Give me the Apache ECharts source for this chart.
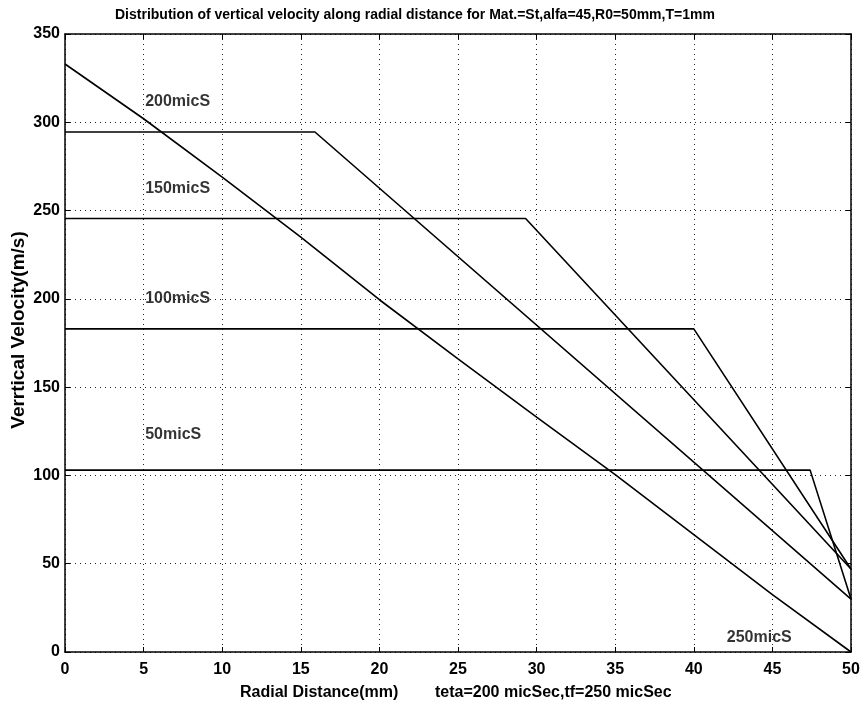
<!DOCTYPE html>
<html>
<head>
<meta charset="utf-8">
<script src="https://cdn.jsdelivr.net/npm/echarts@6/dist/echarts.min.js"></script>
<style>
  html, body { margin: 0; padding: 0; background: #fff; }
  #main { width: 865px; height: 706px; }
</style>
</head>
<body>
<div id="main"></div>
<script>
// 250 micS: continuous fall along the radius
const x250 = [0, 5, 10, 15, 20, 25, 30, 35, 40, 45, 50]
const v250 = [333, 302, 269, 235, 199.5, 166, 133, 100.5, 66.5, 32.5, 0]

// plateau curves: [start, corner, end]
const x200 = [0, 15.9, 50]
const v200 = [294.5, 294.5, 30]
const x150 = [0, 29.3, 50]
const v150 = [245.5, 245.5, 47]
const x100 = [0, 40, 50]
const v100 = [183, 183, 47]
const x50 = [0, 47.4, 50]
const v50 = [103, 103, 30]

// curve labels
const labelText = ['200micS', '150micS', '100micS', '50micS', '250micS']
const labelX = [5.1, 5.1, 5.1, 5.1, 42.1]
const labelY = [311.5, 262.5, 200, 123, 8]

const pairs = (xs, ys) => xs.map((x, i) => [x, ys[i]])

const lineSeries = (name, xs, ys, w) => ({
  name: name,
  type: 'line',
  data: pairs(xs, ys),
  showSymbol: false,
  silent: true,
  lineStyle: { color: '#000', width: w },
  animation: false
})

const FONT = 'Liberation Sans, Arial, sans-serif'
const tickFont = { color: '#000', fontFamily: FONT, fontWeight: 'bold', fontSize: 16 }
const dotted = { show: true, lineStyle: { color: '#222', type: [1, 4], width: 1 } }

let myChart = echarts.init(document.getElementById('main'))
myChart.setOption({
  animation: false,
  backgroundColor: '#fff',
  title: {
    text: 'Distribution of vertical velocity along radial distance for Mat.=St,alfa=45,R0=50mm,T=1mm',
    left: 110, top: 3,
    textStyle: { fontFamily: FONT, fontWeight: 'bold', fontSize: 14, color: '#000' }
  },
  grid: { left: 65, right: 14, top: 34, bottom: 54 },
  xAxis: [
    {
      type: 'value', min: 0, max: 50, interval: 5,
      axisLine: { show: true, lineStyle: { color: '#000', width: 1.5 } },
      axisTick: { show: true, inside: true, length: 5, lineStyle: { color: '#000' } },
      axisLabel: Object.assign({ margin: 10 }, tickFont),
      splitLine: dotted
    },
    {
      type: 'value', min: 0, max: 50, interval: 5, position: 'top',
      axisLine: { show: true, onZero: false, lineStyle: { color: '#000', width: 1.5 } },
      axisTick: { show: true, inside: true, length: 5, lineStyle: { color: '#000' } },
      axisLabel: { show: false },
      splitLine: { show: false }
    }
  ],
  yAxis: [
    {
      type: 'value', min: 0, max: 350, interval: 50,
      axisLine: { show: true, lineStyle: { color: '#000', width: 1.5 } },
      axisTick: { show: true, inside: true, length: 5, lineStyle: { color: '#000' } },
      axisLabel: Object.assign({ margin: 5 }, tickFont),
      splitLine: dotted
    },
    {
      type: 'value', min: 0, max: 350, interval: 50, position: 'right',
      axisLine: { show: true, onZero: false, lineStyle: { color: '#000', width: 1.5 } },
      axisTick: { show: true, inside: true, length: 5, lineStyle: { color: '#000' } },
      axisLabel: { show: false },
      splitLine: { show: false }
    }
  ],
  graphic: [
    {
      type: 'text', x: 19, y: 330, rotation: Math.PI / 2,
      style: {
        text: 'Verrtical Velocity(m/s)', fill: '#000', font: 'bold 19px ' + FONT,
        align: 'center', verticalAlign: 'middle'
      }
    },
    {
      type: 'text', left: 240, top: 685,
      style: { text: 'Radial Distance(mm)', fill: '#000', font: 'bold 16px ' + FONT }
    },
    {
      type: 'text', left: 435, top: 685,
      style: { text: 'teta=200 micSec,tf=250 micSec', fill: '#000', font: 'bold 16px ' + FONT }
    }
  ],
  series: [
    lineSeries('250micS', x250, v250, 1.6),
    lineSeries('200micS', x200, v200, 1.6),
    lineSeries('150micS', x150, v150, 1.6),
    lineSeries('100micS', x100, v100, 1.6),
    lineSeries('50micS', x50, v50, 1.6),
    {
      type: 'scatter',
      silent: true,
      symbolSize: 0,
      data: labelText.map((t, i) => ({ value: [labelX[i], labelY[i]], name: t })),
      label: {
        show: true, position: 'right', distance: 0,
        formatter: p => p.name,
        color: '#000', fontFamily: FONT, fontWeight: 'bold', fontSize: 16
      }
    }
  ]
})
</script>
</body>
</html>
